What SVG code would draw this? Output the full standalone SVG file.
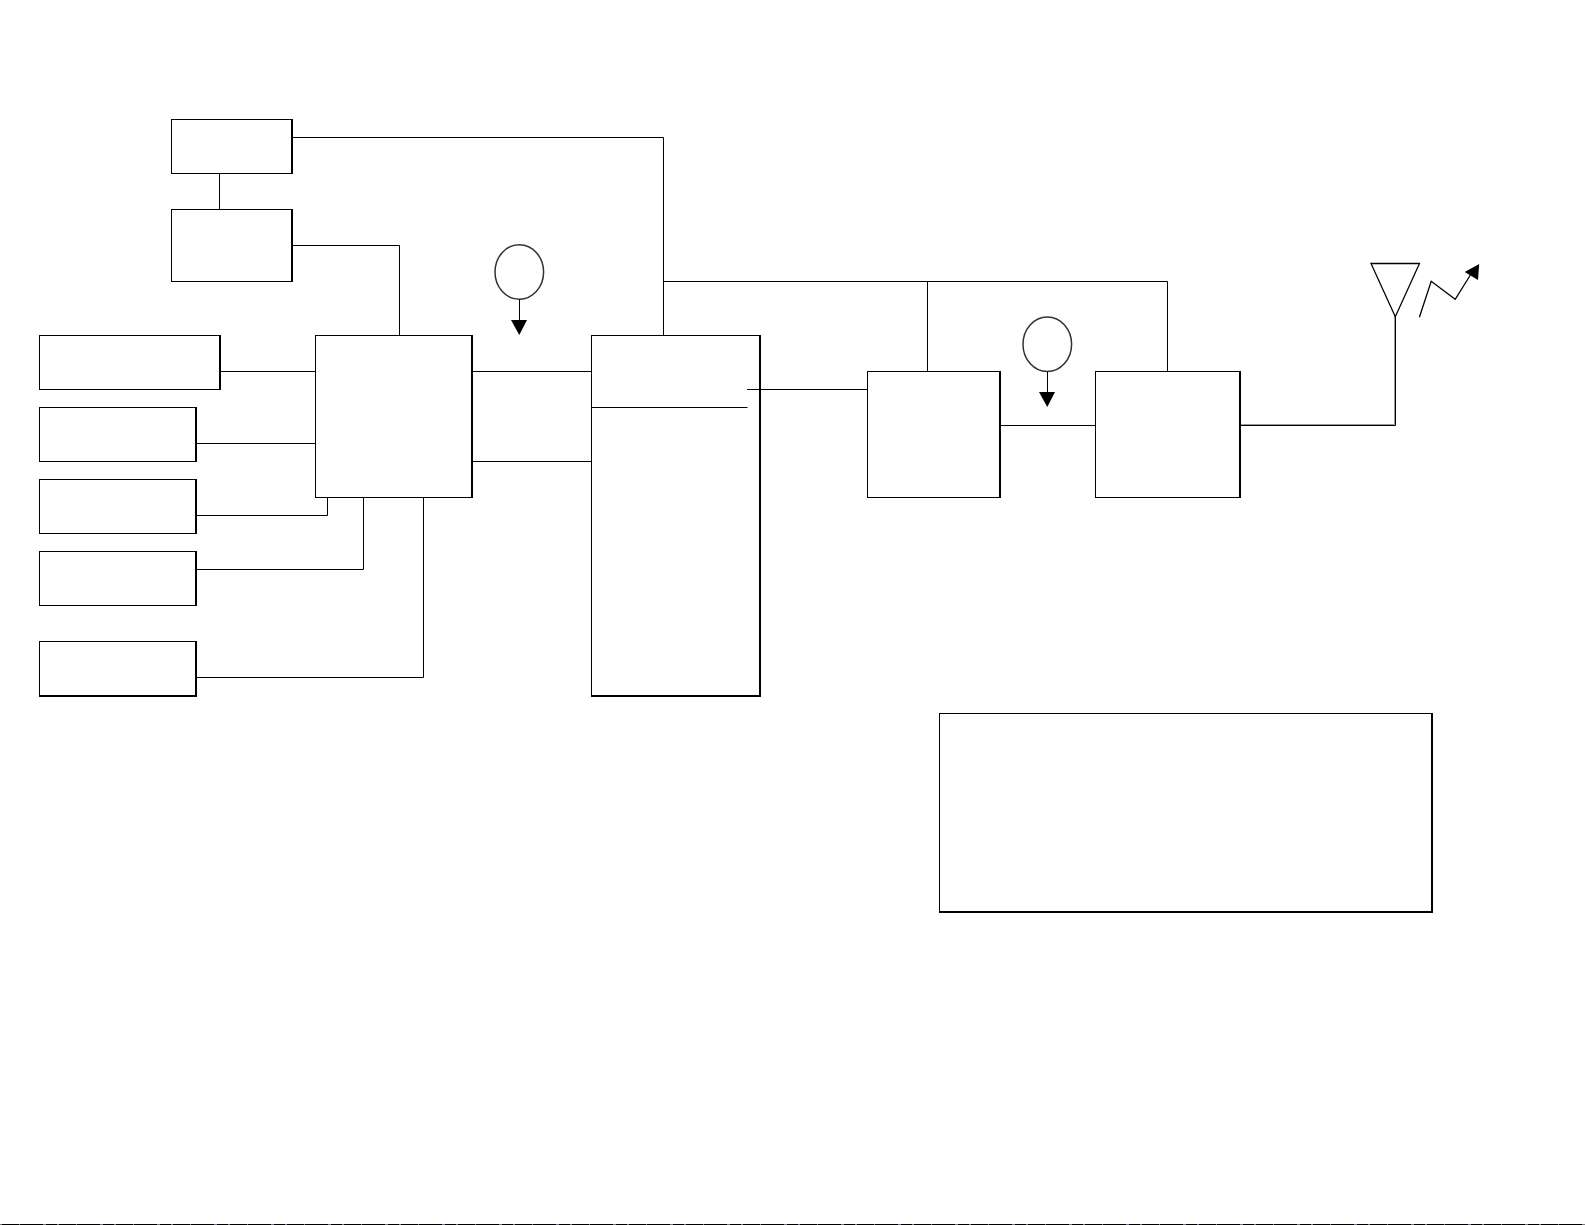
<svg xmlns="http://www.w3.org/2000/svg" width="1585" height="1225" viewBox="0 0 1585 1225">
<style>
.b{fill:#fff;stroke:#000;stroke-width:1}
.t{fill:none;stroke:#000;stroke-width:2}
.c{fill:none;stroke:#000;stroke-width:1}
.s{fill:none;stroke:#000;stroke-width:1.300}
.e{fill:#fff;stroke:#333;stroke-width:1.500}
.a{fill:#000;stroke:none}
</style>
<rect width="1585" height="1225" fill="#fff"/>
<g id="connectors">
<path class="c" d="M292 137.500H663.500V335.500"/>
<path class="c" d="M219.500 173.500V209.500"/>
<path class="c" d="M292 245.500H399.500V335.500"/>
<path class="c" d="M220 371.500H315.500"/>
<path class="c" d="M196 443.500H315.500"/>
<path class="c" d="M196 515.500H327.500V497.500"/>
<path class="c" d="M196 569.500H363.500V497.500"/>
<path class="c" d="M196 677.500H423.500V497.500"/>
<path class="c" d="M472 371.500H591.500"/>
<path class="c" d="M472 461.500H591.500"/>
<path class="c" d="M663.500 281.500H1167.500V371.500"/>
<path class="c" d="M927.500 281.500V371.500"/>
<path class="c" d="M1000 425.500H1095.500"/>
<path fill="none" stroke="#999" stroke-width="1" d="M1240 424.500H1394.500V316"/>
<path class="c" d="M1240 425.500H1395.500V316"/>
<path class="c" d="M747 389.500H867.500"/>
</g>
<g id="box-top"><rect class="b" x="171.500" y="119.500" width="120" height="54"/><path class="t" d="M292 119V174"/></g>
<g id="box-second"><rect class="b" x="171.500" y="209.500" width="120" height="72"/><path class="t" d="M292 209V282"/></g>
<g id="box-input-1"><rect class="b" x="39.500" y="335.500" width="180" height="54"/><path class="t" d="M220 335V390"/></g>
<g id="box-input-2"><rect class="b" x="39.500" y="407.500" width="156" height="54"/><path class="t" d="M196 407V462"/></g>
<g id="box-input-3"><rect class="b" x="39.500" y="479.500" width="156" height="54"/><path class="t" d="M196 479V534"/></g>
<g id="box-input-4"><rect class="b" x="39.500" y="551.500" width="156" height="54"/><path class="t" d="M196 551V606"/></g>
<g id="box-input-5"><rect class="b" x="39.500" y="641.500" width="156" height="54"/><path class="t" d="M196 641V697M39 696H197"/></g>
<g id="box-central"><rect class="b" x="315.500" y="335.500" width="156" height="162"/><path class="t" d="M472 335V498"/></g>
<g id="box-column"><rect class="b" x="591.500" y="335.500" width="168" height="360"/><path class="t" d="M760 335V697M591 696H761"/>
<path class="c" d="M591.500 407.500H747.500"/><path class="c" d="M747 389.500H760"/></g>
<g id="box-mid"><rect class="b" x="867.500" y="371.500" width="132" height="126"/><path class="t" d="M1000 371V498"/></g>
<g id="box-amp"><rect class="b" x="1095.500" y="371.500" width="144" height="126"/><path class="t" d="M1240 371V498"/></g>
<g id="legend"><rect class="b" x="939.500" y="713.500" width="492" height="198"/><path class="t" d="M1432 713V913M939 912H1433"/></g>
<g id="source-1"><ellipse class="e" cx="519.300" cy="272" rx="24.300" ry="27.300"/><path class="c" d="M519.500 299.300V321"/><path class="a" d="M511 320H527L519.300 335Z"/></g>
<g id="source-2"><ellipse class="e" cx="1047.300" cy="344.300" rx="24.300" ry="27.300"/><path class="c" d="M1047.500 371.500V393"/><path class="a" d="M1039 392H1055L1047.300 407Z"/></g>
<g id="antenna"><path class="s" d="M1371 263.500H1419.500L1395.300 316.700Z"/>
<path class="s" d="M1419.400 317.300L1431.200 281.300L1455.200 299.300L1471 274"/><path class="a" d="M1479.200 264L1478 280L1464.700 272Z"/></g>
<path d="M0 1224.500H1585" stroke="#000" stroke-width="1"/>
<path d="M0 1224.500H1585" stroke="#778" stroke-width="1" stroke-dasharray="2 17 1 23 3 11"/>
</svg>
